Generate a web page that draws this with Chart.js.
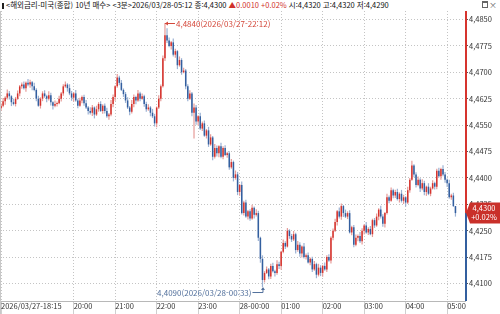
<!DOCTYPE html>
<html lang="ko">
<head>
<meta charset="utf-8">
<script src="https://cdn.jsdelivr.net/npm/chart.js@4.4.0/dist/chart.umd.min.js"></script>
<style>
html, body { margin: 0; padding: 0; background: #fff; }
#wrap { position: relative; width: 500px; height: 314px; overflow: hidden; }
#hdr { position: absolute; left: 0; top: 0; width: 500px; height: 11px; background: #fff; z-index: 2;
  font-family: "Noto Sans CJK KR", sans-serif; font-size: 7.5px; line-height: 10px; color: #111; white-space: nowrap; }
#hdr .mk { display: inline-block; width: 2px; height: 6px; background: #222; margin: 0 2px 0 2px; vertical-align: -1px; }
#hdr .up { color: #d0302a; }
#ico { position: absolute; right: 3px; top: 1px; font-size: 8px; line-height: 8px; color: #666; }
#ico .bx { display: inline-block; width: 4px; height: 4px; border: 1px solid #666; border-top-width: 2px; margin-right: 1px; vertical-align: 0px; }
canvas { position: absolute; left: 0; top: 0; }
</style>
</head>
<body>
<div id="wrap">
  <div id="hdr"><span class="mk"></span>&lt;해외금리-미국(종합) 10년 매수&gt; &lt;3분&gt;2026/03/28-05:12 종:4,4300 <span class="up">▲0.0010 +0.02%</span> 시:4,4320 고:4,4320 저:4,4290<span id="ico"><span class="bx"></span>×</span></div>
  <canvas id="chart" width="500" height="314"></canvas>
</div>
<script>
// 3분봉, 2026/03/27 18:15 ~ 2026/03/28 05:12 (220개)
const opens = [
4.4598,4.4605,4.4618,4.4628,4.4640,4.4632,4.4615,4.4610,4.4625,4.4640,
4.4660,4.4665,4.4655,4.4670,4.4665,4.4672,4.4660,4.4650,4.4625,4.4605,
4.4625,4.4640,4.4632,4.4625,4.4635,4.4615,4.4605,4.4610,4.4612,4.4625,
4.4640,4.4660,4.4665,4.4655,4.4640,4.4628,4.4640,4.4620,4.4605,4.4620,
4.4630,4.4612,4.4600,4.4590,4.4585,4.4600,4.4580,4.4595,4.4610,4.4590,
4.4605,4.4590,4.4575,4.4580,4.4610,4.4630,4.4660,4.4685,4.4670,4.4650,
4.4638,4.4620,4.4600,4.4588,4.4610,4.4630,4.4620,4.4640,4.4625,4.4632,
4.4610,4.4595,4.4600,4.4585,4.4575,4.4555,4.4600,4.4625,4.4660,4.4740,
4.4805,4.4790,4.4775,4.4785,4.4750,4.4760,4.4720,4.4735,4.4700,4.4705,
4.4660,4.4625,4.4640,4.4585,4.4600,4.4560,4.4575,4.4540,4.4555,4.4520,
4.4535,4.4495,4.4515,4.4460,4.4485,4.4470,4.4490,4.4460,4.4485,4.4465,
4.4470,4.4430,4.4445,4.4400,4.4410,4.4360,4.4380,4.4300,4.4330,4.4290,
4.4305,4.4285,4.4315,4.4295,4.4300,4.4230,4.4170,4.4110,4.4130,4.4140,
4.4120,4.4150,4.4135,4.4130,4.4155,4.4150,4.4190,4.4215,4.4205,4.4250,
4.4235,4.4225,4.4240,4.4195,4.4210,4.4185,4.4205,4.4175,4.4180,4.4160,
4.4170,4.4140,4.4155,4.4125,4.4145,4.4130,4.4150,4.4140,4.4175,4.4165,
4.4230,4.4250,4.4275,4.4305,4.4290,4.4320,4.4300,4.4290,4.4300,4.4245,
4.4260,4.4210,4.4230,4.4235,4.4220,4.4250,4.4265,4.4245,4.4255,4.4240,
4.4280,4.4265,4.4290,4.4310,4.4290,4.4270,4.4300,4.4345,4.4335,4.4365,
4.4350,4.4360,4.4340,4.4355,4.4335,4.4345,4.4330,4.4365,4.4395,4.4435,
4.4410,4.4380,4.4395,4.4370,4.4385,4.4360,4.4375,4.4355,4.4370,4.4385,
4.4375,4.4420,4.4405,4.4425,4.4410,4.4395,4.4385,4.4345,4.4350,4.4320
];
const highs = [
4.4611,4.4627,4.4632,4.4651,4.4647,4.4635,4.4625,4.4630,4.4648,4.4664,
4.4671,4.4674,4.4674,4.4681,4.4679,4.4675,4.4670,4.4655,4.4633,4.4629,
4.4646,4.4649,4.4636,4.4646,4.4642,4.4618,4.4620,4.4617,4.4633,4.4644,
4.4666,4.4674,4.4669,4.4666,4.4647,4.4643,4.4650,4.4625,4.4628,4.4634,
4.4636,4.4621,4.4604,4.4601,4.4607,4.4603,4.4605,4.4615,4.4618,4.4609,
4.4611,4.4599,4.4584,4.4621,4.4637,4.4663,4.4695,4.4690,4.4678,4.4654,
4.4644,4.4629,4.4604,4.4621,4.4637,4.4633,4.4650,4.4645,4.4640,4.4636,
4.4616,4.4609,4.4604,4.4596,4.4582,4.4603,4.4635,4.4665,4.4748,4.4840,
4.4825,4.4799,4.4789,4.4796,4.4767,4.4763,4.4745,4.4740,4.4713,4.4709,
4.4666,4.4649,4.4644,4.4611,4.4607,4.4578,4.4585,4.4560,4.4563,4.4539,
4.4545,4.4524,4.4519,4.4496,4.4492,4.4493,4.4500,4.4490,4.4493,4.4474,
4.4476,4.4454,4.4449,4.4421,4.4417,4.4383,4.4390,4.4335,4.4338,4.4309,
4.4311,4.4324,4.4319,4.4311,4.4307,4.4233,4.4180,4.4135,4.4148,4.4144,
4.4156,4.4159,4.4139,4.4166,4.4162,4.4193,4.4225,4.4220,4.4258,4.4254,
4.4241,4.4249,4.4244,4.4221,4.4217,4.4208,4.4215,4.4185,4.4188,4.4174,
4.4176,4.4164,4.4159,4.4156,4.4152,4.4153,4.4160,4.4180,4.4183,4.4234,
4.4256,4.4284,4.4309,4.4316,4.4327,4.4323,4.4310,4.4305,4.4308,4.4264,
4.4266,4.4239,4.4239,4.4246,4.4257,4.4268,4.4275,4.4260,4.4263,4.4284,
4.4286,4.4299,4.4314,4.4321,4.4297,4.4303,4.4355,4.4350,4.4373,4.4369,
4.4366,4.4369,4.4359,4.4366,4.4352,4.4348,4.4375,4.4400,4.4449,4.4439,
4.4416,4.4404,4.4399,4.4396,4.4392,4.4378,4.4385,4.4375,4.4393,4.4389,
4.4426,4.4429,4.4429,4.4436,4.4417,4.4398,4.4395,4.4355,4.4358,4.4320
];
const lows = [
4.4591,4.4601,4.4608,4.4623,4.4623,4.4604,4.4606,4.4603,4.4622,4.4632,
4.4653,4.4651,4.4645,4.4660,4.4656,4.4649,4.4646,4.4618,4.4602,4.4597,
4.4618,4.4628,4.4615,4.4620,4.4606,4.4594,4.4601,4.4603,4.4609,4.4617,
4.4633,4.4656,4.4645,4.4635,4.4619,4.4617,4.4616,4.4598,4.4602,4.4612,
4.4605,4.4596,4.4580,4.4580,4.4576,4.4569,4.4576,4.4588,4.4587,4.4582,
4.4583,4.4571,4.4565,4.4575,4.4601,4.4619,4.4656,4.4663,4.4647,4.4630,
4.4613,4.4596,4.4578,4.4583,4.4601,4.4609,4.4616,4.4618,4.4622,4.4602,
4.4588,4.4591,4.4575,4.4570,4.4546,4.4544,4.4596,4.4618,4.4657,4.4732,
4.4783,4.4771,4.4765,4.4745,4.4741,4.4709,4.4716,4.4693,4.4697,4.4652,
4.4618,4.4621,4.4575,4.4512,4.4551,4.4549,4.4536,4.4533,4.4517,4.4512,
4.4488,4.4491,4.4450,4.4455,4.4461,4.4459,4.4456,4.4453,4.4462,4.4457,
4.4423,4.4426,4.4390,4.4395,4.4351,4.4349,4.4296,4.4293,4.4287,4.4282,
4.4278,4.4281,4.4285,4.4290,4.4221,4.4159,4.4090,4.4103,4.4127,4.4112,
4.4113,4.4131,4.4120,4.4125,4.4141,4.4139,4.4186,4.4198,4.4202,4.4227,
4.4218,4.4221,4.4185,4.4190,4.4176,4.4174,4.4171,4.4168,4.4157,4.4152,
4.4133,4.4136,4.4115,4.4120,4.4121,4.4119,4.4136,4.4133,4.4162,4.4157,
4.4223,4.4246,4.4265,4.4285,4.4281,4.4289,4.4286,4.4283,4.4242,4.4237,
4.4203,4.4206,4.4220,4.4215,4.4211,4.4239,4.4241,4.4238,4.4237,4.4232,
4.4258,4.4261,4.4280,4.4285,4.4261,4.4259,4.4296,4.4328,4.4332,4.4342,
4.4343,4.4336,4.4330,4.4330,4.4326,4.4319,4.4326,4.4358,4.4392,4.4402,
4.4373,4.4376,4.4360,4.4365,4.4351,4.4349,4.4351,4.4348,4.4367,4.4367,
4.4368,4.4401,4.4395,4.4405,4.4386,4.4374,4.4341,4.4338,4.4317,4.4290
];
const closes = [
4.4605,4.4618,4.4628,4.4640,4.4632,4.4615,4.4610,4.4625,4.4640,4.4660,
4.4665,4.4655,4.4670,4.4665,4.4672,4.4660,4.4650,4.4625,4.4605,4.4625,
4.4640,4.4632,4.4625,4.4635,4.4615,4.4605,4.4610,4.4612,4.4625,4.4640,
4.4660,4.4665,4.4655,4.4640,4.4628,4.4640,4.4620,4.4605,4.4620,4.4630,
4.4612,4.4600,4.4590,4.4585,4.4600,4.4580,4.4595,4.4610,4.4590,4.4605,
4.4590,4.4575,4.4580,4.4610,4.4630,4.4660,4.4685,4.4670,4.4650,4.4638,
4.4620,4.4600,4.4588,4.4610,4.4630,4.4620,4.4640,4.4625,4.4632,4.4610,
4.4595,4.4600,4.4585,4.4575,4.4555,4.4600,4.4625,4.4660,4.4740,4.4805,
4.4790,4.4775,4.4785,4.4750,4.4760,4.4720,4.4735,4.4700,4.4705,4.4660,
4.4625,4.4640,4.4585,4.4600,4.4560,4.4575,4.4540,4.4555,4.4520,4.4535,
4.4495,4.4515,4.4460,4.4485,4.4470,4.4490,4.4460,4.4485,4.4465,4.4470,
4.4430,4.4445,4.4400,4.4410,4.4360,4.4380,4.4300,4.4330,4.4290,4.4305,
4.4285,4.4315,4.4295,4.4300,4.4230,4.4170,4.4110,4.4130,4.4140,4.4120,
4.4150,4.4135,4.4130,4.4155,4.4150,4.4190,4.4215,4.4205,4.4250,4.4235,
4.4225,4.4240,4.4195,4.4210,4.4185,4.4205,4.4175,4.4180,4.4160,4.4170,
4.4140,4.4155,4.4125,4.4145,4.4130,4.4150,4.4140,4.4175,4.4165,4.4230,
4.4250,4.4275,4.4305,4.4290,4.4320,4.4300,4.4290,4.4300,4.4245,4.4260,
4.4210,4.4230,4.4235,4.4220,4.4250,4.4265,4.4245,4.4255,4.4240,4.4280,
4.4265,4.4290,4.4310,4.4290,4.4270,4.4300,4.4345,4.4335,4.4365,4.4350,
4.4360,4.4340,4.4355,4.4335,4.4345,4.4330,4.4365,4.4395,4.4435,4.4410,
4.4380,4.4395,4.4370,4.4385,4.4360,4.4375,4.4355,4.4370,4.4385,4.4375,
4.4420,4.4405,4.4425,4.4410,4.4395,4.4385,4.4345,4.4350,4.4320,4.4300
];

// 축 눈금
const xTickIdx = [0, 35, 55, 75, 95, 115, 135, 155, 175, 195, 215];
const xTickLabels = ['2026/03/27-18:15', '20:00', '21:00', '22:00', '23:00', '28-00:00', '01:00', '02:00', '03:00', '04:00', '05:00'];
const yTicks = [4.4100, 4.4175, 4.4250, 4.4325, 4.4400, 4.4475, 4.4550, 4.4625, 4.4700, 4.4775, 4.4850];

const hiText = '4,4840(2026/03/27-22:12)';
const loText = '4,4090(2026/03/28-00:33)';
const lastPct = '+0.02%';

const RED = '#d6342e';
const BLUE = '#335f9f';
const RED_W = '#e69b98';
const BLUE_W = '#9bb1d3';
const FONT = '"Noto Sans CJK KR", "Noto Sans", sans-serif';

Chart.defaults.font.family = FONT;

let bodies = opens.map((o, i) => ({ x: i, y: [o, closes[i]] }));
let wicks = lows.map((l, i) => ({ x: i, y: [l, highs[i]] }));

function isUp(i) {
	return closes[i] >= opens[i];
}

function fmt(v) {
	return v.toFixed(4).replace('.', ',');
}

const marks = {
	id: 'marks',
	afterDraw(chart) {
		const c = chart.ctx;
		const a = chart.chartArea;
		const xs = chart.scales.x;
		const ys = chart.scales.y;
		const last = closes.length - 1;
		const yCur = ys.getPixelForValue(closes[last]);

		c.save();
		// 왼쪽 테두리
		c.strokeStyle = '#c8c8c8';
		c.lineWidth = 1;
		c.beginPath();
		c.moveTo(0.5, 0);
		c.lineTo(0.5, 314);
		c.stroke();

		// 가격축 선 (현재가 위 빨강 / 아래 파랑)
		const ax = a.right + 1;
		c.lineWidth = 2;
		c.strokeStyle = RED;
		c.beginPath();
		c.moveTo(ax, 0);
		c.lineTo(ax, yCur);
		c.stroke();
		c.strokeStyle = BLUE;
		c.beginPath();
		c.moveTo(ax, yCur);
		c.lineTo(ax, a.bottom);
		c.stroke();

		// 최고가 표시
		let hi = highs.indexOf(Math.max(...highs));
		let hx = xs.getPixelForValue(hi);
		let hy = ys.getPixelForValue(highs[hi]);
		c.strokeStyle = '#d4473a';
		c.fillStyle = '#d4473a';
		c.lineWidth = 1;
		c.beginPath();
		c.moveTo(hx, hy + 0.5);
		c.lineTo(hx + 10, hy + 0.5);
		c.stroke();
		c.beginPath();
		c.moveTo(hx, hy + 0.5);
		c.lineTo(hx + 3, hy - 1.5);
		c.lineTo(hx + 3, hy + 2.5);
		c.fill();
		c.font = '8px ' + FONT;
		c.textAlign = 'left';
		c.textBaseline = 'middle';
		c.fillText(hiText, hx + 11, hy + 0.5);

		// 최저가 표시
		let lo = lows.indexOf(Math.min(...lows));
		let lx = xs.getPixelForValue(lo);
		let ly = ys.getPixelForValue(lows[lo]);
		c.strokeStyle = '#52709c';
		c.fillStyle = '#52709c';
		c.beginPath();
		c.moveTo(lx + 0.5, ly + 1);
		c.lineTo(lx + 0.5, ly + 5.5);
		c.lineTo(lx - 10, ly + 5.5);
		c.stroke();
		c.beginPath();
		c.moveTo(lx + 0.5, ly);
		c.lineTo(lx - 1.5, ly + 3);
		c.lineTo(lx + 2.5, ly + 3);
		c.fill();
		c.textAlign = 'right';
		c.fillText(loText, lx - 11, ly + 5.5);

		// 현재가 박스
		c.fillStyle = '#c9302a';
		c.beginPath();
		c.moveTo(a.right + 1, yCur);
		c.lineTo(a.right + 5, yCur - 10.5);
		c.lineTo(500, yCur - 10.5);
		c.lineTo(500, yCur + 10.5);
		c.lineTo(a.right + 5, yCur + 10.5);
		c.closePath();
		c.fill();
		c.fillStyle = '#fff';
		c.font = '7.5px ' + FONT;
		c.textAlign = 'center';
		c.fillText(fmt(closes[last]), 484, yCur - 4.5);
		c.fillText(lastPct, 484, yCur + 4.5);
		c.restore();
	}
};

const ctx = document.getElementById('chart');
new Chart(ctx, {
	type: 'bar',
	data: {
		datasets: [{
			label: '몸통',
			data: bodies,
			order: 0,
			grouped: false,
			barThickness: 1.5,
			minBarLength: 1,
			inflateAmount: 0,
			borderWidth: 0,
			backgroundColor: (c) => isUp(c.dataIndex) ? RED : BLUE
		}, {
			label: '꼬리',
			data: wicks,
			order: 1,
			grouped: false,
			barThickness: 1.2,
			inflateAmount: 0,
			borderWidth: 0,
			backgroundColor: (c) => isUp(c.dataIndex) ? RED_W : BLUE_W
		}]
	},
	options: {
		responsive: false,
		animation: false,
		layout: { padding: { top: 11, left: 0, right: 0, bottom: 0 } },
		plugins: {
			legend: { display: false },
			tooltip: { enabled: false }
		},
		scales: {
			x: {
				type: 'linear',
				offset: false,
				min: -0.5,
				max: 223.6,
				afterBuildTicks: (s) => { s.ticks = xTickIdx.map(v => ({ value: v })); },
				afterFit: (s) => {
					s.height = 13;
					s.paddingLeft = 0;
					s.paddingRight = 0;
				},
				grid: {
					offset: false,
					color: '#c4c4c4',
					tickColor: '#cfcfcf',
					tickLength: 13,
					tickBorderDash: []
				},
				border: { display: true, color: '#b8b8b8', dash: [1, 2] },
				ticks: {
					autoSkip: false,
					maxRotation: 0,
					align: 'start',
					padding: -12,
					color: '#333',
					font: { size: 7.5 },
					callback: (v) => xTickLabels[xTickIdx.indexOf(v)]
				}
			},
			y: {
				position: 'right',
				min: 4.40503,
				max: 4.48741,
				afterBuildTicks: (s) => { s.ticks = yTicks.map(v => ({ value: v })); },
				afterFit: (s) => {
					s.width = 35;
					s.paddingTop = 0;
					s.paddingBottom = 0;
				},
				grid: {
					color: '#c4c4c4',
					tickColor: '#555',
					tickLength: 3,
					tickBorderDash: []
				},
				border: { display: false, dash: [1, 2] },
				ticks: {
					padding: 1,
					color: '#333',
					font: { size: 7.5 },
					callback: (v) => fmt(v)
				}
			}
		}
	},
	plugins: [marks]
});
</script>
</body>
</html>
